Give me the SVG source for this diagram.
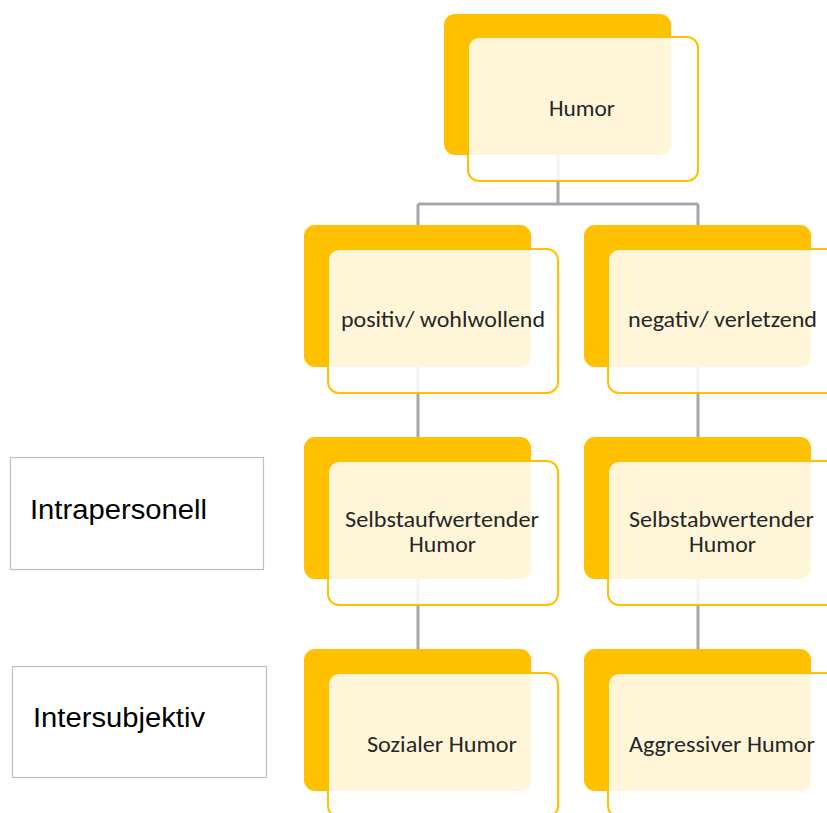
<svg xmlns="http://www.w3.org/2000/svg" width="827" height="813" viewBox="0 0 827 813">
  <style>
    .back { fill: #FFC000; }
    .front { fill: #FFFFFF; fill-opacity: 0.85; stroke: #FFC000; stroke-width: 2; }
    .label { font-family: Carlito, "Noto Sans", "Open Sans", sans-serif; font-size: 22px; fill: #262626; }
    .side { fill: #FFFFFF; stroke: #BFBFBF; stroke-width: 1.2; }
    .sidetext { font-family: "Liberation Sans", Arial, sans-serif; font-size: 27px; fill: #000000; }
    .conn { fill: none; stroke: #A6A6A6; stroke-width: 3; }
  </style>

  <!-- connectors (drawn first so the node faces sit on top) -->
  <g id="connectors">
    <path class="conn" d="M558 150 V204 M418 204 H698 M418 204 V230 M698 204 V230"/>
    <path class="conn" d="M418 360 V442 M698 360 V442"/>
    <path class="conn" d="M418 572 V654 M698 572 V654"/>
  </g>

  <!-- side labels -->
  <g id="intrapersonell">
    <rect class="side" x="10.5" y="457.5" width="253" height="112"/>
    <text class="sidetext" x="30" y="519" textLength="177" lengthAdjust="spacingAndGlyphs">Intrapersonell</text>
  </g>
  <g id="intersubjektiv">
    <rect class="side" x="12.5" y="666.5" width="254" height="111"/>
    <text class="sidetext" x="33" y="727" textLength="172" lengthAdjust="spacingAndGlyphs">Intersubjektiv</text>
  </g>

  <!-- level 0 -->
  <g id="humor">
    <rect class="back" x="444" y="14" width="227" height="141" rx="11"/>
    <rect class="front" x="468" y="37" width="230" height="144" rx="11"/>
    <text class="label" x="549" y="116" textLength="66" lengthAdjust="spacingAndGlyphs">Humor</text>
  </g>

  <!-- level 1 -->
  <g id="positiv">
    <rect class="back" x="304" y="225" width="227" height="142" rx="11"/>
    <rect class="front" x="328" y="249" width="230" height="144" rx="11"/>
    <text class="label" x="341" y="327" textLength="204" lengthAdjust="spacingAndGlyphs">positiv/ wohlwollend</text>
  </g>
  <g id="negativ">
    <rect class="back" x="584" y="225" width="227" height="142" rx="11"/>
    <rect class="front" x="608" y="249" width="230" height="144" rx="11"/>
    <text class="label" x="628" y="327" textLength="189" lengthAdjust="spacingAndGlyphs">negativ/ verletzend</text>
  </g>

  <!-- level 2 -->
  <g id="selbstaufwertend">
    <rect class="back" x="304" y="437" width="227" height="142" rx="11"/>
    <rect class="front" x="328" y="461" width="230" height="144" rx="11"/>
    <text class="label" x="345" y="527" textLength="194" lengthAdjust="spacingAndGlyphs">Selbstaufwertender</text>
    <text class="label" x="409" y="552" textLength="67" lengthAdjust="spacingAndGlyphs">Humor</text>
  </g>
  <g id="selbstabwertend">
    <rect class="back" x="584" y="437" width="227" height="142" rx="11"/>
    <rect class="front" x="608" y="461" width="230" height="144" rx="11"/>
    <text class="label" x="629" y="527" textLength="185" lengthAdjust="spacingAndGlyphs">Selbstabwertender</text>
    <text class="label" x="689" y="552" textLength="67" lengthAdjust="spacingAndGlyphs">Humor</text>
  </g>

  <!-- level 3 -->
  <g id="sozial">
    <rect class="back" x="304" y="649" width="227" height="142" rx="11"/>
    <rect class="front" x="328" y="673" width="230" height="144" rx="11"/>
    <text class="label" x="367" y="752" textLength="150" lengthAdjust="spacingAndGlyphs">Sozialer Humor</text>
  </g>
  <g id="aggressiv">
    <rect class="back" x="584" y="649" width="227" height="142" rx="11"/>
    <rect class="front" x="608" y="673" width="230" height="144" rx="11"/>
    <text class="label" x="629" y="752" textLength="186" lengthAdjust="spacingAndGlyphs">Aggressiver Humor</text>
  </g>
</svg>
